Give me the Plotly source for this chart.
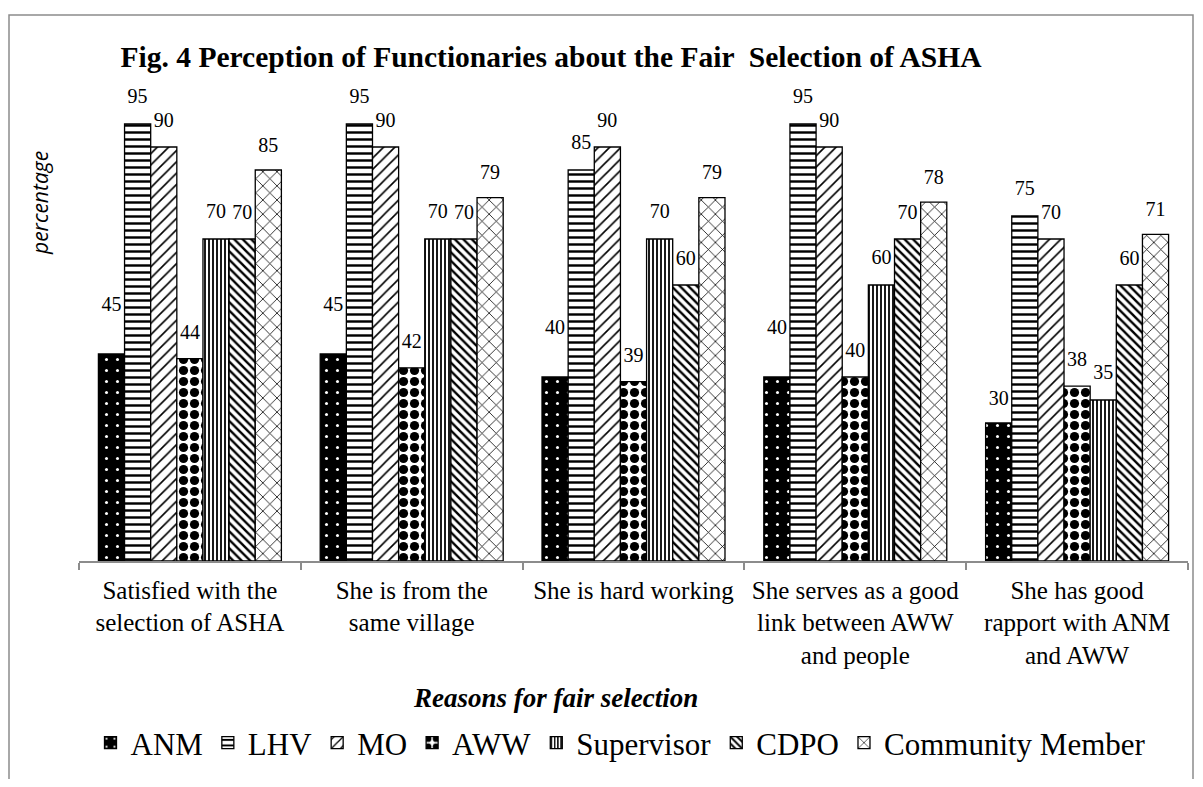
import plotly.graph_objects as go

categories = [
    "Satisfied with the<br>selection of ASHA",
    "She is from the<br>same village",
    "She is hard working",
    "She serves as a good<br>link between AWW<br>and people",
    "She has good<br>rapport with ANM<br>and AWW",
]
series_names = ["ANM", "LHV", "MO", "AWW", "Supervisor", "CDPO", "Community Member"]
anm = [45, 45, 40, 40, 30]
lhv = [95, 95, 85, 95, 75]
mo = [90, 90, 90, 90, 70]
aww = [44, 42, 39, 40, 38]
supervisor = [70, 70, 70, 60, 35]
cdpo = [70, 70, 60, 70, 60]
community = [85, 79, 79, 78, 71]
values = [anm, lhv, mo, aww, supervisor, cdpo, community]

# styles
patterns = [
    dict(shape=".", fgcolor="white", bgcolor="black", size=11, solidity=0.06, fillmode="replace"),
    dict(shape="-", fgcolor="black", bgcolor="white", size=7, solidity=0.35, fillmode="replace"),
    dict(shape="/", fgcolor="black", bgcolor="white", size=8, solidity=0.2, fillmode="replace"),
    dict(shape=".", fgcolor="black", bgcolor="white", size=11, solidity=0.55, fillmode="replace"),
    dict(shape="|", fgcolor="black", bgcolor="white", size=4, solidity=0.45, fillmode="replace"),
    dict(shape="\\", fgcolor="black", bgcolor="white", size=6, solidity=0.4, fillmode="replace"),
    dict(shape="x", fgcolor="black", bgcolor="white", size=10, solidity=0.15, fillmode="replace"),
]
label_gap = [
    [60, 60, 60, 60, 20],
    [24, 24, 24, 24, 24],
    [22, 22, 22, 22, 22],
    [22, 22, 22, 22, 22],
    [24, 24, 24, 24, 24],
    [22, 22, 22, 22, 22],
    [20, 20, 20, 20, 20],
]

serif = "Liberation Serif"
W, H = 1187, 771  # page body has an 8px margin

fig = go.Figure()
for name, vals, pat in zip(series_names, values, patterns):
    fig.add_trace(go.Bar(
        name=name, x=categories, y=vals, offsetgroup=name,
        marker=dict(color=pat["bgcolor"], line=dict(color="black", width=1.3), pattern=pat),
    ))
for name, vals, gaps in zip(series_names, values, label_gap):
    fig.add_trace(go.Scatter(
        x=categories, y=vals, offsetgroup=name, mode="markers+text",
        text=[str(v) for v in vals], textposition="top center",
        textfont=dict(family=serif, size=20, color="black"),
        marker=dict(size=gaps, opacity=0), showlegend=False, hoverinfo="skip",
        cliponaxis=False,
    ))

fig.update_layout(
    width=W, height=H,
    paper_bgcolor="white", plot_bgcolor="white",
    margin=dict(l=71, r=7, t=93, b=218),
    barmode="group", bargap=0.175, scattermode="group", scattergap=0.175,
    title=dict(text="<b>Fig. 4 Perception of Functionaries about the Fair  Selection of ASHA</b>",
               font=dict(family=serif, size=29.5, color="black"),
               xref="container", yref="container", x=543 / W, y=1 - 49 / H,
               xanchor="center", yanchor="middle"),
    font=dict(family=serif, color="black"),
    showlegend=True,
    legend=dict(orientation="h", xref="container", yref="container", x=613 / W, y=1 - 735 / H,
                xanchor="center", yanchor="middle", font=dict(family=serif, size=31, color="black"),
                itemwidth=30, tracegroupgap=0),
)
fig.update_xaxes(
    showline=True, linecolor="#8c8c8c", linewidth=1.5,
    ticks="outside", tickson="boundaries", ticklen=7, tickcolor="#8c8c8c", tickwidth=1.5,
    tickfont=dict(family=serif, size=25, color="black"), showgrid=False,
    ticklabelstandoff=6,
)
fig.update_yaxes(range=[0, 100], visible=False, showgrid=False)

fig.add_annotation(text="<b><i>Reasons for fair selection</i></b>", xref="paper", yref="paper",
                   x=(555 - 79) / 1109, y=(561 - 698) / 460, showarrow=False,
                   xanchor="center", yanchor="middle",
                   font=dict(family=serif, size=27, color="black"))
fig.add_annotation(text="<i>percentage</i>", xref="paper", yref="paper",
                   x=(40 - 79) / 1109, y=(561 - 203) / 460, showarrow=False, textangle=-90,
                   xanchor="center", yanchor="middle",
                   font=dict(family="Open Sans", size=21, color="black"))
fig.add_shape(type="rect", xref="paper", yref="paper",
              x0=(9 - 79) / 1109, x1=(1193 - 79) / 1109, y0=(561 - 820) / 460, y1=(561 - 15) / 460,
              line=dict(color="#8c8c8c", width=1.5), fillcolor="rgba(0,0,0,0)", layer="below")

fig.write_html("out.html")
